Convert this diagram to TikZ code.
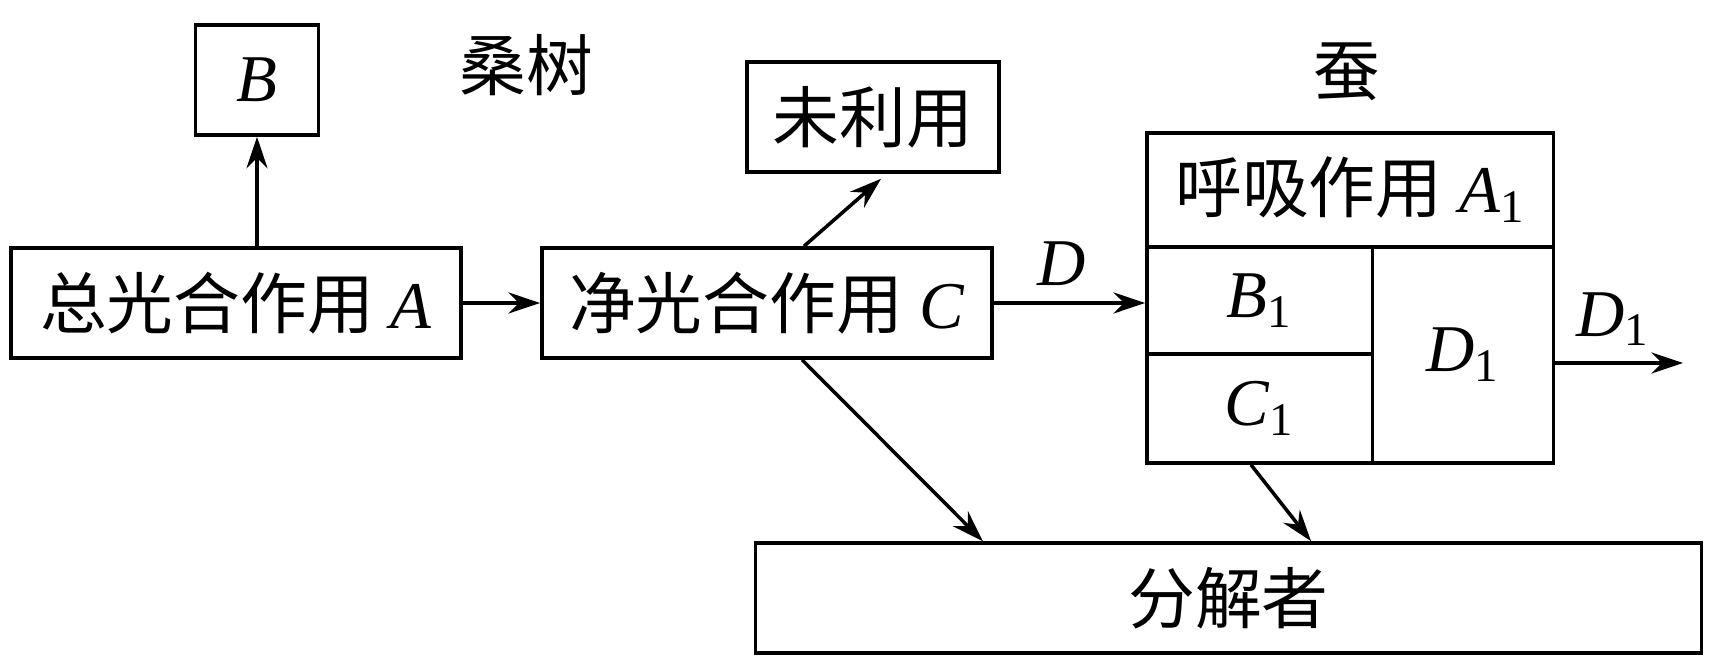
\documentclass[tikz,border=0pt]{standalone}
\usepackage{fontspec}
\setmainfont{Liberation Serif}
\newfontfamily\cjk{Noto Sans CJK SC}
\usetikzlibrary{arrows.meta, positioning}

\tikzset{
  box/.style={draw, line width=1pt, inner sep=0pt, minimum height=1.1cm, font=\fontsize{19}{22}\selectfont},
  cell/.style={draw, line width=1pt, inner sep=0pt, font=\fontsize{19}{22}\selectfont},
  lbl/.style={font=\fontsize{19}{22}\selectfont},
  flow/.style={line width=1pt, -{Stealth[length=9pt,width=6pt,inset=3pt]}},
}

\begin{document}
\begin{tikzpicture}[x=0.01cm, y=-0.01cm]
  \useasboundingbox (0,0) rectangle (1731,668);

  % mulberry
  \node[box, minimum width=4.5cm] (tot) at (236,303) {{\cjk 总光合作用} \textit{A}};
  \node[box, minimum width=1.23cm] (b) at (257,80) {\textit{B}};
  \node[box, minimum width=4.5cm] (net) at (767,303) {{\cjk 净光合作用} \textit{C}};
  \node[box, minimum width=2.52cm] (unused) at (873,117) {\cjk 未利用};
  \node[lbl] (tree) at (526,65) {\cjk 桑树};

  % silkworm
  \node[cell, minimum width=4.065cm, minimum height=1.14cm] (resp) at (1350.25,190) {{\cjk 呼吸作用} \textit{A}\textsubscript{1}};
  \node[cell, minimum width=2.255cm, minimum height=1.07cm] (b1) at (1259.75,300.5) {\textit{B}\textsubscript{1}};
  \node[cell, minimum width=2.255cm, minimum height=1.09cm] (c1) at (1259.75,408.5) {\textit{C}\textsubscript{1}};
  \node[cell, minimum width=1.81cm, minimum height=2.16cm] (d1) at (1463,355) {\textit{D}\textsubscript{1}};
  \node[lbl] (worm) at (1347,72) {\cjk 蚕};

  % decomposers
  \node[box, minimum width=9.45cm] (dec) at (1228.5,598) {\cjk 分解者};
  \coordinate (out) at (1683,363);

  % flows
  \draw[flow] (tot.north -| b.south) -- (b.south);
  \draw[flow] (tot) -- (net);
  \draw[flow] ([xshift=0.37cm]net.north) -- ([xshift=0.08cm,yshift=-0.05cm]unused.south);
  \draw[flow] (net.east) -- (net.east -| resp.west) node[lbl, pos=0.45, above=1pt] {\textit{D}};
  \draw[flow] (d1.east |- out) -- (out) node[lbl, pos=0.45, above=1pt] {\textit{D}\textsubscript{1}};
  \draw[flow] ([xshift=0.35cm]net.south) -- ([xshift=-2.455cm]dec.north);
  \draw[flow] ([xshift=-0.0875cm]c1.south) -- ([xshift=0.825cm]dec.north);
\end{tikzpicture}
\end{document}
